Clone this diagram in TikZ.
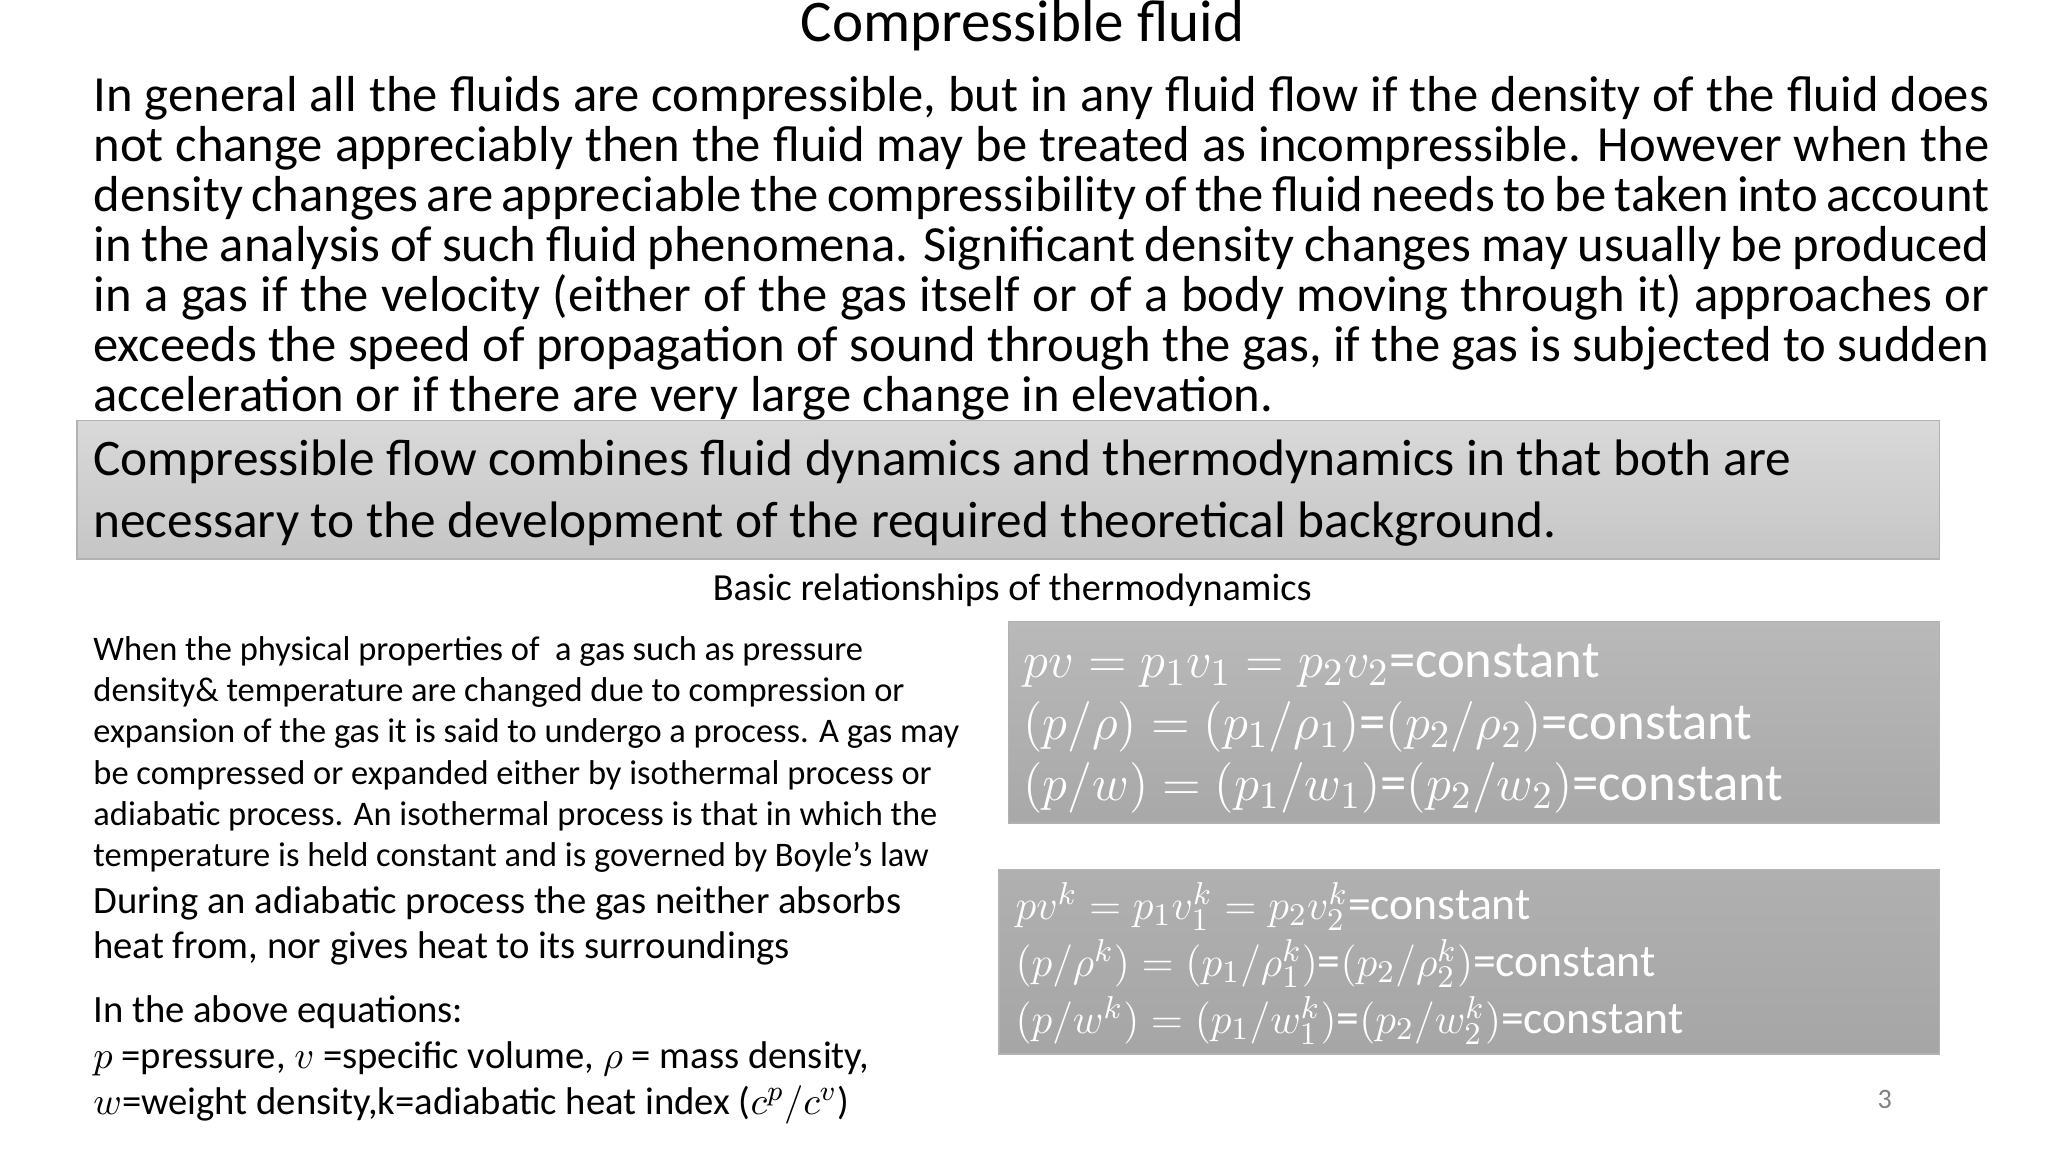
\documentclass[tikz,border=0pt]{standalone}
\usepackage{fontspec}
\setmainfont{Carlito}
\begin{document}
\begin{tikzpicture}[x=0.01306cm,y=-0.01306cm,
  txt/.style={inner sep=0pt,anchor=north west,align=left}]
\useasboundingbox[fill=white] (0,0) rectangle (1568,882);
\node[inner sep=0pt,font=\fontsize{16.8}{19}\selectfont] (title) at (783,20) {Compressible fluid};
\node[txt,text width=18.96cm,align=justify,font=\fontsize{14.4}{14.2}\selectfont] (para) at (71,58)
{\hyphenpenalty=10000\relax\exhyphenpenalty=10000\relax In general all the fluids are compressible, but in any fluid flow if the density of the fluid does not change appreciably then the fluid may be treated as incompressible. However when the density changes are appreciable the compressibility of the fluid needs to be taken into account in the analysis of such fluid phenomena. Significant density changes may usually be produced in a gas if the velocity (either of the gas itself or of a body moving through it) approaches or exceeds the speed of propagation of sound through the gas, if the gas is subjected to sudden acceleration or if there are very large change in elevation.};
\shade[top color=gray!30,bottom color=gray!45,draw=gray!60] (59,322) rectangle (1485,428);
\node[txt,font=\fontsize{14.6}{17.6}\selectfont] (box) at (71,336)
{Compressible flow combines fluid dynamics and thermodynamics in that both are\\necessary to the development of the required theoretical background.};
\node[inner sep=0pt,font=\fontsize{10.9}{12}\selectfont] (sub) at (775,452) {Basic relationships of thermodynamics};
\node[txt,font=\fontsize{9.8}{11.7}\selectfont] (left1) at (71,487)
{When the physical properties of\ \ a gas such as pressure\\density\& temperature are changed due to compression or\\expansion of the gas it is said to undergo a process. A gas may\\be compressed or expanded either by isothermal process or\\adiabatic process. An isothermal process is that in which the\\temperature is held constant and is governed by Boyle’s law};
\node[txt,font=\fontsize{11}{13}\selectfont] (left2) at (71,678)
{During an adiabatic process the gas neither absorbs\\heat from, nor gives heat to its surroundings};
\node[txt,font=\fontsize{11}{13}\selectfont] (left3) at (71,762)
{In the above equations:\\$p$ =pressure, $v$ =specific volume, $\rho$ = mass density,\\$w$=weight density,k=adiabatic heat index ($c^p/c^v$)};
\shade[top color=gray!55,bottom color=gray!68,draw=gray!60] (772,476) rectangle (1485,630);
\node[txt,text=white,font=\fontsize{15}{17.5}\selectfont] (eq1) at (783,493)
{$pv=p_1v_1=p_2v_2$=constant\\$(p/\rho)=(p_1/\rho_1)$=$(p_2/\rho_2)$=constant\\$(p/w)=(p_1/w_1)$=$(p_2/w_2)$=constant};
\shade[top color=gray!62,bottom color=gray!70,draw=gray!60] (765,666) rectangle (1485,807);
\node[txt,text=white,font=\fontsize{13}{16.2}\selectfont] (eq2) at (777,675)
{$pv^k=p_1v_1^k=p_2v_2^k$=constant\\$(p/\rho^k)=(p_1/\rho_1^k)$=$(p_2/\rho_2^k)$=constant\\$(p/w^k)=(p_1/w_1^k)$=$(p_2/w_2^k)$=constant};
\node[inner sep=0pt,text=gray,font=\fontsize{8}{9}\selectfont] (pg) at (1443,842) {3};
\end{tikzpicture}
\end{document}
